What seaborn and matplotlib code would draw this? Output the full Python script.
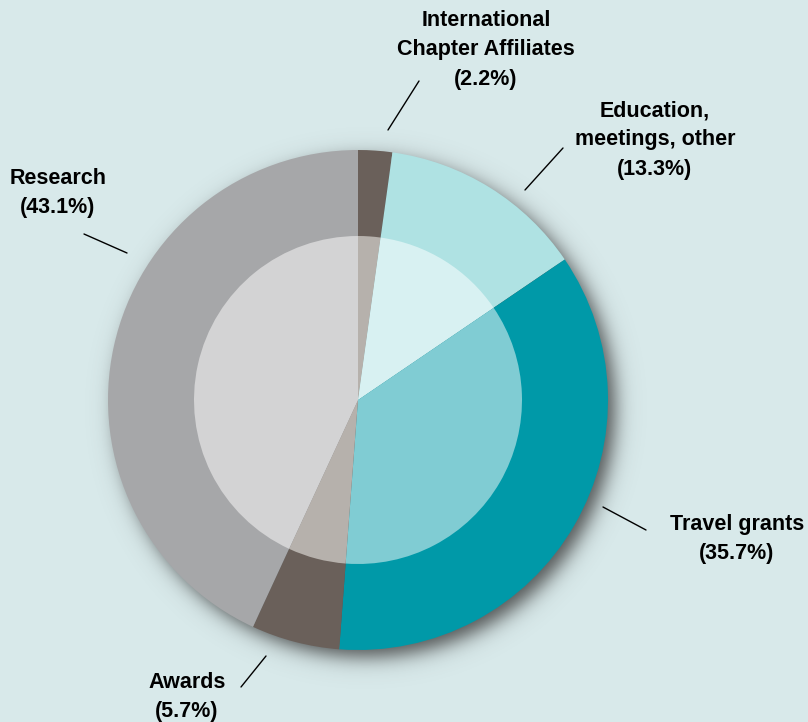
import numpy as np
import matplotlib
matplotlib.use("Agg")
import matplotlib.pyplot as plt
import seaborn as sns

sns.set_theme(style="white")
plt.rcParams['font.family'] = ['Liberation Sans', 'DejaVu Sans']

# ------------------------------------------------
# DATA
# ------------------------------------------------
categories = ["International\nChapter Affiliates", "Education,\nmeetings, other",
              "Travel grants", "Awards", "Research"]
shares = [2.2, 13.3, 35.7, 5.7, 43.1]
outer_colors = ["#6a605a", "#afe2e3", "#0099a8", "#6a605a", "#a6a7a9"]
inner_colors = ["#b6b1ac", "#d8f1f2", "#80ccd3", "#b6b1ac", "#d3d3d4"]

bg = "#d8e9ea"
W, H = 808, 722
cx, cy = 358, H - 400
R_out, R_in = 250, 164

fig = plt.figure(figsize=(W / 100, H / 100), dpi=100, facecolor=bg)
ax = fig.add_axes([0, 0, 1, 1])
ax.set_facecolor(bg)

# soft drop shadow behind the ring
xx, yy = np.meshgrid(np.arange(W) + 0.5, np.arange(H) + 0.5)
d = np.hypot(xx - (cx + 8), yy - (cy - 8))
alpha = 0.85 / (1 + np.exp((d - R_out + 1) / 6))
shadow = np.zeros((H, W, 4))
shadow[..., :3] = 0.22
shadow[..., 3] = alpha
ax.imshow(shadow, extent=(0, W, 0, H), origin="lower", zorder=0, interpolation="bilinear")

ax.pie(shares, colors=outer_colors, radius=R_out, center=(cx, cy),
       startangle=90, counterclock=False,
       wedgeprops=dict(linewidth=0, zorder=2))
ax.pie(shares, colors=inner_colors, radius=R_in, center=(cx, cy),
       startangle=90, counterclock=False,
       wedgeprops=dict(linewidth=0, zorder=3))

# ------------------------------------------------
# LABELS
# ------------------------------------------------
label_pos = [(486, 50), (655, 140), (737, 539), (187, 697), (58, 193)]
leader = [((388, 130), (419, 81)), ((525, 190), (563, 148)),
          ((603, 507), (646, 530)), ((241, 687), (266, 656)),
          ((84, 234), (127, 253))]

for cat, val, (lx, ly), ((x0, y0), (x1, y1)) in zip(categories, shares, label_pos, leader):
    ax.text(lx, H - ly, f"{cat}\n({val}%)", ha="center", va="center",
            fontsize=15.5, fontweight="bold", color="black", linespacing=1.5, zorder=5)
    ax.plot([x0, x1], [H - y0, H - y1], color="black", lw=1, zorder=5)

ax.set_xlim(0, W)
ax.set_ylim(0, H)
ax.set_aspect("equal")
ax.axis("off")

fig.savefig("out.png", dpi=100, facecolor=bg)
